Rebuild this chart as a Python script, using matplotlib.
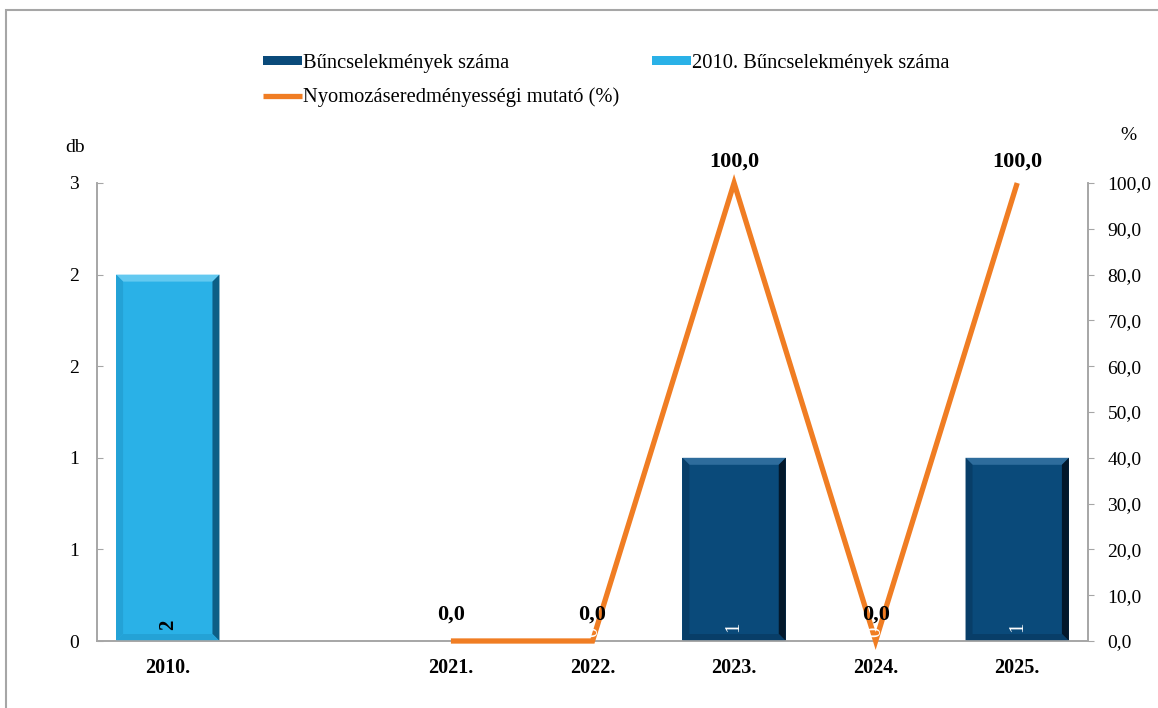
import math
import numpy as np
import matplotlib
matplotlib.use("Agg")
import matplotlib.pyplot as plt
from matplotlib.patches import Rectangle, Polygon
from matplotlib.ticker import FuncFormatter

# Adatok
kategoriak = ["2010.", "", "2021.", "2022.", "2023.", "2024.", "2025."]
buncselekmenyek = [np.nan, np.nan, 0, 0, 1, 0, 1]
buncselekmenyek_2010 = [2, np.nan, np.nan, np.nan, np.nan, np.nan, np.nan]
nyomozas = [np.nan, np.nan, 0.0, 0.0, 100.0, 0.0, 100.0]

plt.rcParams['font.family'] = ['Liberation Serif', 'DejaVu Serif']

SOTET = '#0A4A7A'
VILAGOS = '#2AB1E7'
NARANCS = '#F07D23'
SZURKE = '#A6A6A6'

fig = plt.figure(figsize=(11.58, 7.08), dpi=100)
ax = fig.add_axes([97 / 1158, 1 - 641 / 708, (1088 - 97) / 1158, (641 - 183) / 708])
ax2 = ax.twinx()

x = np.arange(len(kategoriak))

# nulla magassagu oszlopokat nem rajzolunk
sotet_rajz = [v if (not np.isnan(v) and v > 0) else np.nan for v in buncselekmenyek]
b1 = ax.bar(x, sotet_rajz, width=0.73, color=SOTET, edgecolor='none',
            label='Bűncselekmények száma', zorder=2)
b2 = ax.bar(x, buncselekmenyek_2010, width=0.73, color=VILAGOS, edgecolor='none',
            label='2010. Bűncselekmények száma', zorder=2)

ax.set_xlim(-0.5, len(kategoriak) - 0.5)
ax.set_ylim(0, 2.5)


def bevel(bars, vilagos, sotet, kozep_sotet):
    # Excel-szeru "dombor" oszlopszel
    b = 7
    inv = ax.transData.inverted()
    for p in bars.patches:
        h = p.get_height()
        if np.isnan(h) or h <= 0:
            continue
        (x0, y0), (x1, y1) = ax.transData.transform(
            [(p.get_x(), 0), (p.get_x() + p.get_width(), h)])
        kulso = [(x0, y1), (x1, y1), (x1, y0), (x0, y0)]
        belso = [(x0 + b, y1 - b), (x1 - b, y1 - b), (x1 - b, y0 + b), (x0 + b, y0 + b)]
        reszek = [
            ([kulso[0], kulso[1], belso[1], belso[0]], vilagos),
            ([kulso[1], kulso[2], belso[2], belso[1]], sotet),
            ([kulso[2], kulso[3], belso[3], belso[2]], kozep_sotet),
            ([kulso[3], kulso[0], belso[0], belso[3]], kozep_sotet),
        ]
        for pts, c in reszek:
            ax.add_patch(Polygon(inv.transform(pts), closed=True, facecolor=c,
                                 edgecolor='none', zorder=3))


bevel(b1, '#2E6C9C', '#03182B', '#083E68')
bevel(b2, '#63C9F0', '#0D5F86', '#24A2D6')

# felirat az oszlopok aljara
for xi, v in zip(x, buncselekmenyek):
    if not np.isnan(v):
        ax2.text(xi, 3.0 if v > 0 else 2.0, f"{int(v)}", rotation=90, ha='center', va='center',
                 color='white', fontsize=15, zorder=10)
for xi, v in zip(x, buncselekmenyek_2010):
    if not np.isnan(v):
        ax2.text(xi, 3.6, f"{int(v)}", rotation=90, ha='center', va='center',
                 color='black', fontsize=15, fontweight='bold', zorder=10)

vonal, = ax2.plot(x, nyomozas, color=NARANCS, linewidth=3.8, solid_joinstyle='miter',
                  solid_capstyle='butt', clip_on=False, zorder=5,
                  label='Nyomozáseredményességi mutató (%)')
for xi, v in zip(x, nyomozas):
    if not np.isnan(v):
        ax2.annotate(f"{v:.1f}".replace('.', ','), (xi, v), xytext=(0, 12 if v < 50 else 8),
                     textcoords='offset points', ha='center', va='bottom',
                     fontsize=16, fontweight='bold', zorder=11)

# tengelyek
ax.set_yticks(np.arange(0, 2.51, 0.5))
ax.yaxis.set_major_formatter(FuncFormatter(lambda v, p: f"{int(math.floor(v + 0.5))}"))
ax2.set_ylim(0, 100)
ax2.set_yticks(np.arange(0, 101, 10))
ax2.yaxis.set_major_formatter(FuncFormatter(lambda v, p: f"{v:.1f}".replace('.', ',')))

ax.set_xticks(x)
ax.set_xticklabels(kategoriak, fontweight='bold', fontsize=14.5)
ax.tick_params(axis='x', length=0, pad=12)
ax.tick_params(axis='y', direction='in', length=4, color=SZURKE, labelsize=14, pad=13)
ax2.tick_params(axis='y', direction='out', length=4, color=SZURKE, labelsize=14, pad=10)

for a in (ax, ax2):
    a.spines['top'].set_visible(False)
    for s in ('left', 'right', 'bottom'):
        a.spines[s].set_color(SZURKE)
        a.spines[s].set_linewidth(1.2)

fig.text(75 / 1158, 1 - 148 / 708, 'db', ha='center', va='center', fontsize=14)
fig.text(1128 / 1158, 1 - 135 / 708, '%', ha='center', va='center', fontsize=14)

fig.legend([b1, vonal, b2], [b1.get_label(), vonal.get_label(), b2.get_label()],
           ncol=2, loc='upper left', bbox_to_anchor=(244 / 1158, 1 - 35 / 708),
           frameon=False, fontsize=14.8, handlelength=1.9, handleheight=0.3,
           handletextpad=0.05, labelspacing=0.7, columnspacing=1.6)

# keret
fig.patches.append(Rectangle((6 / 1158, -0.1), 1.2, 1.1 - 10 / 708, transform=fig.transFigure,
                             fill=False, edgecolor=SZURKE, linewidth=1.5))

fig.savefig('out.png', dpi=100)
